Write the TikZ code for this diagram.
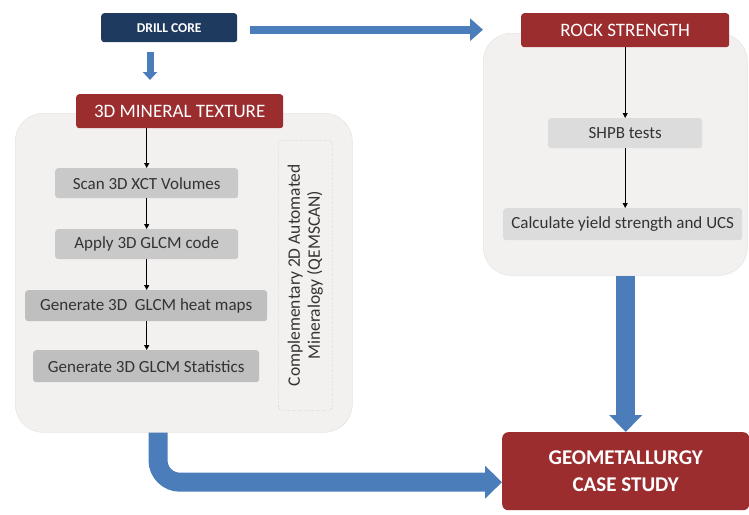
\documentclass[tikz,border=0pt]{standalone}
\usepackage{fontspec}
\setmainfont{Carlito}
\usetikzlibrary{arrows.meta,calc}
\definecolor{navyc}{HTML}{1F3A5F}
\definecolor{redc}{HTML}{9B2D2F}
\definecolor{bluec}{HTML}{4A7DBA}
\definecolor{panelc}{HTML}{F3F1EF}
\definecolor{grayA}{HTML}{C9C9C9}
\definecolor{grayB}{HTML}{BFBFBF}
\definecolor{grayC}{HTML}{DCDCDC}
\definecolor{textc}{HTML}{333333}
\tikzset{
  panel/.style={fill=panelc, draw=panelc!90!gray, line width=0.6pt, rounded corners=28pt, inner sep=0pt, anchor=north west},
  redbox/.style={fill=redc, rounded corners=3pt, text=white, inner sep=0pt, anchor=north west, font=\fontsize{19}{22}\selectfont},
  graybox/.style={fill=grayA, rounded corners=3pt, text=textc, inner sep=0pt, anchor=north west, font=\fontsize{17}{20}\selectfont},
  flow/.style={draw=black, line width=0.9pt, -{Triangle[width=5pt,length=5pt]}},
  bigarrow/.style={draw=bluec, line width=19pt, -{Triangle[width=32pt,length=17pt]}},
  midarrow/.style={draw=bluec, line width=8pt, -{Triangle[width=22pt,length=13pt]}},
  smallarrow/.style={draw=bluec, line width=7pt, -{Triangle[width=14pt,length=8pt]}}
}
\begin{document}
\begin{tikzpicture}[x=1pt,y=-1pt]
\useasboundingbox[fill=white] (0,0) rectangle (749,514);
% panels
\node[panel, minimum width=337pt, minimum height=319pt] (lpanel) at (15,113) {};
\node[panel, minimum width=264pt, minimum height=242pt] (rpanel) at (483,33) {};
% headers
\node[fill=navyc, rounded corners=3pt, text=white, inner sep=0pt, anchor=north west,
      minimum width=136pt, minimum height=29pt, font=\fontsize{13.5}{16}\selectfont\bfseries] (dc) at (101,13) {DRILL CORE};
\node[redbox, minimum width=207pt, minimum height=34pt] (mt) at (76,94) {3D MINERAL TEXTURE};
\node[redbox, minimum width=208pt, minimum height=34pt] (rs) at (521,13) {ROCK STRENGTH};
% left steps
\node[graybox, minimum width=183pt, minimum height=30pt] (scan) at (55,168) {Scan 3D XCT Volumes};
\node[graybox, minimum width=183pt, minimum height=30pt] (apply) at (55,229) {Apply 3D GLCM code};
\node[graybox, fill=grayB, minimum width=242pt, minimum height=31pt] (heat) at (25,290) {Generate 3D\ \ GLCM heat maps};
\node[graybox, fill=grayB, minimum width=226pt, minimum height=32pt] (stats) at (33,350) {Generate 3D GLCM Statistics};
% dotted box
\node[draw=gray, dotted, rounded corners=4pt, inner sep=0pt, anchor=north west,
      minimum width=54pt, minimum height=270pt] (qem) at (278,140) {};
\node[rotate=90, align=center, text=textc, font=\fontsize{17.5}{20}\selectfont] (qemt) at (qem.center) {Complementary 2D Automated\\Mineralogy (QEMSCAN)};
% right steps
\node[graybox, fill=grayC, minimum width=154pt, minimum height=30pt] (shpb) at (548,118) {SHPB tests};
\node[graybox, fill=grayC, minimum width=239pt, minimum height=32pt] (calc) at (503,208) {Calculate yield strength and UCS};
% final
\node[fill=redc, rounded corners=6pt, text=white, inner sep=0pt, anchor=north west, align=center,
      minimum width=247pt, minimum height=78pt, font=\fontsize{21}{27}\selectfont\bfseries] (geo) at (502,432) {GEOMETALLURGY\\CASE STUDY};
% thin flows
\draw[flow] (scan.north |- mt.south) -- (scan.north);
\draw[flow] (scan.south) -- (apply.north);
\draw[flow] (apply.south) -- (apply.south |- heat.north);
\draw[flow] (apply.south |- heat.south) -- (apply.south |- stats.north);
\draw[flow] (shpb.north |- rs.south) -- (shpb.north);
\draw[flow] (shpb.south) -- (shpb.south |- calc.north);
% blue arrows
\coordinate (a1) at ($(dc.east)+(13,2)$);
\draw[midarrow] (a1) -- (a1 -| rpanel.west);
\draw[smallarrow] ($(dc.south west)+(49,10)$) -- ($(mt.north west)+(74,-14)$);
\draw[bigarrow] (geo.north |- rpanel.south) -- (geo.north);
\coordinate (e1) at ($(lpanel.south west)+(143,0)$);
\draw[bigarrow, rounded corners=22pt] (e1) |- ($(geo.west)+(0,11)$);
\end{tikzpicture}
\end{document}
